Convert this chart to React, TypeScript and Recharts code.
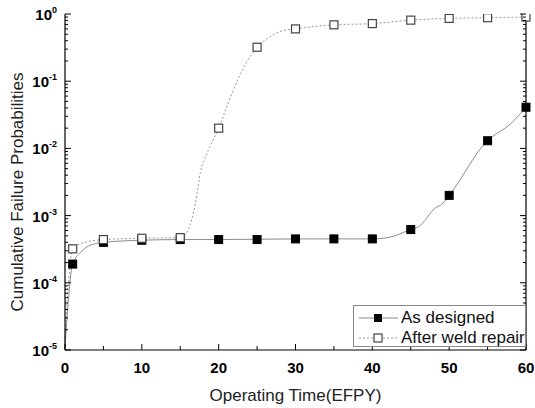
import { ComposedChart, Line, Scatter, XAxis, YAxis, Legend } from 'recharts';

// Marker positions (years) and values
const markerYears = [1, 5, 10, 15, 20, 25, 30, 35, 40, 45, 50, 55, 60];
const designedMarks = [1.9e-4, 4.0e-4, 4.3e-4, 4.4e-4, 4.4e-4, 4.4e-4, 4.5e-4, 4.5e-4, 4.5e-4, 6.2e-4, 2.0e-3, 1.3e-2, 4.1e-2];
const repairMarks = [3.2e-4, 4.4e-4, 4.6e-4, 4.7e-4, 2.0e-2, 0.32, 0.6, 0.69, 0.72, 0.81, 0.86, 0.88, 0.9];

// Smooth curves
const designedCurveX = [0, 1, 2, 3, 5, 10, 15, 20, 30, 40, 42, 45, 46, 48.2, 49.1, 50, 55, 56.3, 57.3, 60];
const designedCurveY = [1.1e-5, 1.9e-4, 2.8e-4, 3.5e-4, 4.0e-4, 4.3e-4, 4.4e-4, 4.4e-4, 4.5e-4, 4.5e-4, 4.7e-4, 6.2e-4, 6.8e-4, 1.3e-3, 1.5e-3, 2.0e-3, 1.3e-2, 1.7e-2, 2.0e-2, 4.1e-2];
const repairCurveX = [0, 1, 2, 5, 10, 15, 16, 17, 17.6, 18.5, 20, 21, 22.4, 23.5, 25, 26.7, 28, 30, 35, 40, 45, 50, 55, 60];
const repairCurveY = [1.5e-5, 3.2e-4, 3.8e-4, 4.4e-4, 4.6e-4, 4.7e-4, 6e-4, 1.6e-3, 4.3e-3, 8.5e-3, 2.0e-2, 4.0e-2, 0.10, 0.18, 0.32, 0.46, 0.55, 0.6, 0.69, 0.72, 0.81, 0.86, 0.88, 0.9];

// Axis ticks
const xTicks = [0, 5, 10, 15, 20, 25, 30, 35, 40, 45, 50, 55, 60];
const decades = [-5, -4, -3, -2, -1, 0];
const yTicks: number[] = [];
decades.forEach((e) => {
    yTicks.push(Math.pow(10, e));
    if (e < 0) for (let m = 2; m <= 9; m++) yTicks.push(m * Math.pow(10, e));
});

const zip = (xs: number[], ys: number[]) => xs.map((x, i) => ({ x, y: ys[i] }));
const designedCurve = zip(designedCurveX, designedCurveY);
const repairCurve = zip(repairCurveX, repairCurveY);
const designedPts = zip(markerYears, designedMarks);
const repairPts = zip(markerYears, repairMarks);

const FONT = '"Liberation Sans", Arial, sans-serif';

const isDecade = (v: number) => Math.abs(Math.log10(v) - Math.round(Math.log10(v))) < 1e-6;

// Inward ticks for the left axis, with 10^n labels
const LeftTick = ({ x, y, payload }: any) => {
    const v = payload.value;
    const major = isDecade(v);
    const e = Math.round(Math.log10(v));
    return (
        <g>
            <line x1={x} x2={x + (major ? 6 : 3)} y1={y} y2={y} stroke="#000" strokeWidth={1} />
            {major && (
                <text x={x - 8} y={y + 6} textAnchor="end" fontFamily={FONT} fontWeight="bold" fontSize={15} fill="#000">
                    <tspan>10</tspan>
                    <tspan dy={-7} fontSize={9}>{e}</tspan>
                </text>
            )}
        </g>
    );
};

const RightTick = ({ x, y, payload }: any) => {
    const major = isDecade(payload.value);
    return <line x1={x} x2={x - (major ? 6 : 3)} y1={y} y2={y} stroke="#000" strokeWidth={1} />;
};

const BottomTick = ({ x, y, payload }: any) => {
    const major = payload.value % 10 === 0;
    return (
        <g>
            <line x1={x} x2={x} y1={y} y2={y - (major ? 6 : 4)} stroke="#000" strokeWidth={1} />
            {major && (
                <text x={x} y={y + 23} textAnchor="middle" fontFamily={FONT} fontWeight="bold" fontSize={15} fill="#000">
                    {payload.value}
                </text>
            )}
        </g>
    );
};

const TopTick = ({ x, y, payload }: any) => {
    const major = payload.value % 10 === 0;
    return <line x1={x} x2={x} y1={y} y2={y + (major ? 6 : 4)} stroke="#000" strokeWidth={1} />;
};

const FilledSquare = (props: any) => (
    <rect x={props.cx - 4} y={props.cy - 4} width={8} height={8} fill="#000" stroke="#000" strokeWidth={1} />
);
const OpenSquare = (props: any) => (
    <rect x={props.cx - 4} y={props.cy - 4} width={8} height={8} fill="#fff" stroke="#444" strokeWidth={1.2} />
);

const renderLegend = () => (
    <div
        style={{
            width: 171,
            height: 40,
            border: '1px solid #888',
            background: '#fff',
            fontFamily: FONT,
            fontSize: 17,
            color: '#111',
            boxSizing: 'content-box',
        }}
    >
        <div style={{ display: 'flex', alignItems: 'center', height: 21, marginTop: 1 }}>
            <svg width={42} height={20} style={{ marginLeft: 3 }}>
                <line x1={2} x2={41} y1={10} y2={10} stroke="#888" strokeWidth={1} />
                <rect x={17} y={6} width={8} height={8} fill="#000" />
            </svg>
            <span style={{ marginLeft: 2 }}>As designed</span>
        </div>
        <div style={{ display: 'flex', alignItems: 'center', height: 19 }}>
            <svg width={42} height={20} style={{ marginLeft: 3 }}>
                <line x1={2} x2={41} y1={10} y2={10} stroke="#999" strokeWidth={1} strokeDasharray="2 2" />
                <rect x={17} y={6} width={8} height={8} fill="#fff" stroke="#444" strokeWidth={1.2} />
            </svg>
            <span style={{ marginLeft: 2 }}>After weld repair</span>
        </div>
    </div>
);

export default function App() {
    return (
        <div style={{ position: 'absolute', left: 0, top: 0, width: 535, height: 408, background: '#fff' }}>
            <ComposedChart width={535} height={408} margin={{ top: 14, right: 0, bottom: 0, left: 0 }}>
                <XAxis
                    xAxisId="main"
                    dataKey="x"
                    type="number"
                    domain={[0, 60]}
                    ticks={xTicks}
                    interval={0}
                    height={58}
                    tickSize={0}
                    tickMargin={0}
                    tick={<BottomTick />}
                    axisLine={{ stroke: '#000', strokeWidth: 1.2 }}
                    label={{ value: 'Operating Time(EFPY)', position: 'insideBottom', offset: 7, fontSize: 17, fontFamily: FONT, fill: '#222' }}
                />
                <XAxis
                    xAxisId="top"
                    orientation="top"
                    dataKey="x"
                    type="number"
                    domain={[0, 60]}
                    ticks={xTicks}
                    interval={0}
                    height={0}
                    tickSize={0}
                    tickMargin={0}
                    tick={<TopTick />}
                    axisLine={{ stroke: '#000', strokeWidth: 1.2 }}
                />
                <YAxis
                    yAxisId="main"
                    dataKey="y"
                    scale="log"
                    type="number"
                    domain={[1e-5, 1]}
                    allowDataOverflow
                    ticks={yTicks}
                    interval={0}
                    width={65}
                    tickSize={0}
                    tickMargin={0}
                    tick={<LeftTick />}
                    axisLine={{ stroke: '#000', strokeWidth: 1.2 }}
                    label={{
                        content: ({ viewBox }: any) => (
                            <text
                                transform={`translate(${viewBox.x + 23}, ${viewBox.y + viewBox.height / 2 + 10}) rotate(-90)`}
                                textAnchor="middle"
                                fontFamily={FONT}
                                fontSize={17}
                                fill="#222"
                            >
                                Cumulative Failure Probabilities
                            </text>
                        ),
                    }}
                />
                <YAxis
                    yAxisId="right"
                    orientation="right"
                    dataKey="y"
                    scale="log"
                    type="number"
                    domain={[1e-5, 1]}
                    allowDataOverflow
                    ticks={yTicks}
                    interval={0}
                    width={9}
                    tickSize={0}
                    tickMargin={0}
                    tick={<RightTick />}
                    axisLine={{ stroke: '#000', strokeWidth: 1.2 }}
                />

                <Legend
                    layout="horizontal"
                    verticalAlign="middle"
                    align="center"
                    content={renderLegend}
                    wrapperStyle={{ left: 353, top: 305, bottom: 'auto', width: 173 }}
                />

                <Line
                    xAxisId="main"
                    yAxisId="main"
                    data={designedCurve}
                    dataKey="y"
                    type="monotoneX"
                    stroke="#8c8c8c"
                    strokeWidth={1}
                    dot={false}
                    activeDot={false}
                    isAnimationActive={false}
                />
                <Line
                    xAxisId="main"
                    yAxisId="main"
                    data={repairCurve}
                    dataKey="y"
                    type="monotoneX"
                    stroke="#9a9a9a"
                    strokeWidth={1}
                    strokeDasharray="2 2"
                    dot={false}
                    activeDot={false}
                    isAnimationActive={false}
                />
                <Scatter xAxisId="main" yAxisId="main" data={designedPts} dataKey="y" shape={<FilledSquare />} isAnimationActive={false} />
                <Scatter xAxisId="main" yAxisId="main" data={repairPts} dataKey="y" shape={<OpenSquare />} isAnimationActive={false} />
            </ComposedChart>
        </div>
    );
}
